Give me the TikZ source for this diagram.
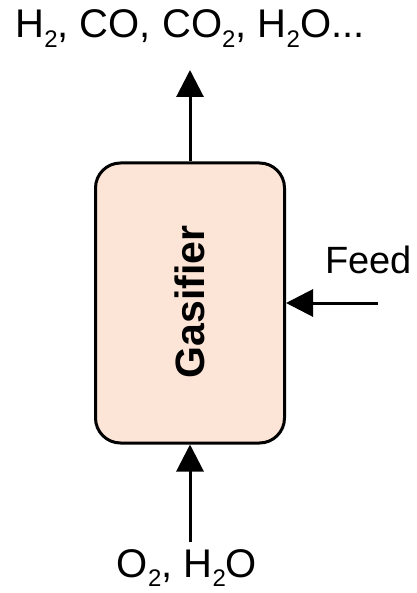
\documentclass[tikz,border=0pt]{standalone}
\usepackage{fontspec}
\setmainfont{Liberation Sans}
\usetikzlibrary{arrows.meta}
\definecolor{peach}{HTML}{FCE4D6}
\newcommand\sbs[1]{\raisebox{-0.24em}{\fontsize{24}{24}\selectfont #1}}
\begin{document}
\begin{tikzpicture}[x=1pt,y=-1pt,
  flow/.style={line width=3pt,-{Triangle[length=27pt,width=27pt]}},
  lbl/.style={inner sep=0pt,font=\fontsize{40}{44}\selectfont},
  reactor/.style={draw,line width=3pt,fill=peach,rounded corners=25pt,minimum width=189pt,minimum height=280pt,inner sep=0pt}]
\useasboundingbox (0,0) rectangle (416,593);
\node[reactor] (g) at (190,303) {};
\node[rotate=90,font=\bfseries\fontsize{41}{44}\selectfont] (gt) at (190,302) {Gasifier};
\node[lbl,anchor=base] (top) at (190,38) {H\sbs{2}, CO, CO\sbs{2}, H\sbs{2}O...};
\node[lbl,anchor=base] (bot) at (187,577) {O\sbs{2}, H\sbs{2}O};
\node[lbl,anchor=base west,font=\fontsize{38}{40}\selectfont] (feed) at (325,273) {Feed};
\coordinate (topend) at (190,70);
\coordinate (botstart) at (190,542);
\coordinate (feedstart) at (378,303);
\draw[flow] (g.north) -- (topend);
\draw[flow] (botstart) -- (g.south);
\draw[flow] (feedstart) -- (g.east|-feedstart);
\end{tikzpicture}
\end{document}
